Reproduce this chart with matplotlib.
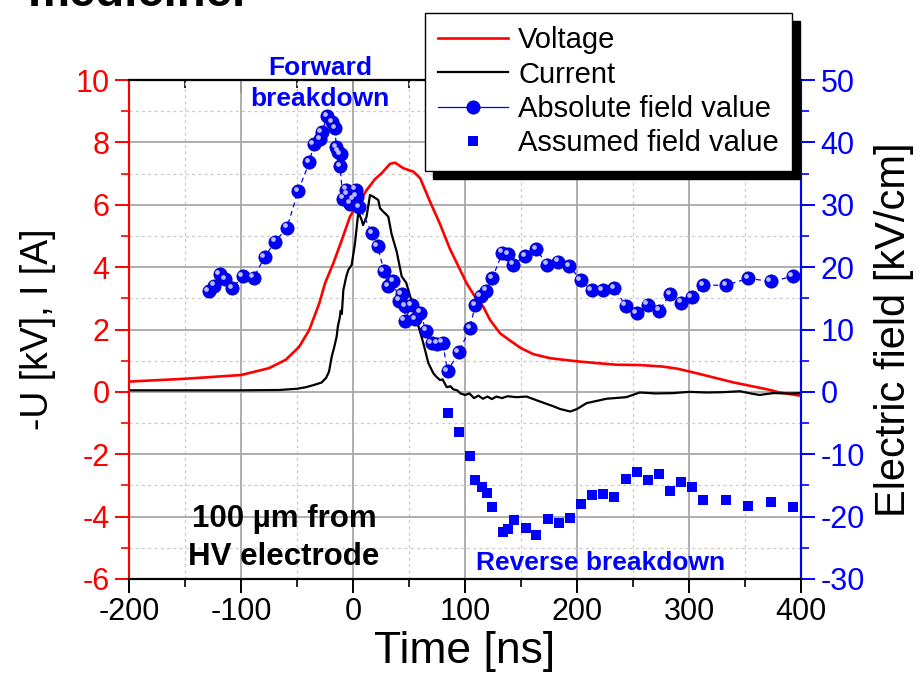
import numpy as np
import matplotlib.pyplot as plt
import matplotlib.transforms as mtransforms
from matplotlib.patches import Rectangle
from matplotlib.lines import Line2D
from matplotlib.ticker import MultipleLocator

plt.rcParams['font.family'] = ['Liberation Sans', 'DejaVu Sans']
plt.rcParams['axes.unicode_minus'] = False

# Voltage (-U, kV)
t_volt = [-200, -150, -100, -75, -60, -48, -39, -30, -25, -17.6, -10, -2.7, 4.8, 12.2,
          19.6, 25.6, 33, 37.5, 45, 54, 60, 68.75, 77.7, 86.6, 101.5, 108.9, 116.3,
          122.3, 131.25, 140, 150, 161, 176, 190, 202.7, 235, 256, 277, 290, 310,
          340, 370, 381, 399]
volt = [0.33, 0.42, 0.54, 0.76, 1.03, 1.45, 1.99, 2.85, 3.48, 4.12, 4.87, 5.62, 6.05,
        6.47, 6.82, 7.01, 7.31, 7.35, 7.17, 7.06, 6.85, 6.1, 5.38, 4.58, 3.48, 3.05,
        2.73, 2.31, 1.88, 1.65, 1.40, 1.21, 1.08, 1.02, 0.97, 0.87, 0.86, 0.81, 0.74,
        0.57, 0.30, 0.08, -0.02, -0.12]

# Current (A)
t_curr = [-200, -150, -100, -66, -50, -42, -35, -28, -24, -21.4, -19, -17, -14.6, -13.5,
          -12, -11, -10, -8.6, -6, -4.2, -1.2, 1.8, 4.8, 7.7, 9, 12, 15.2, 18, 22.6,
          24.1, 27, 31.5, 34.5, 39, 43.5, 47.5, 52.4, 56.9, 62.8, 67.3, 71.7, 74, 77.7,
          80, 83.7, 87, 89.6, 93, 96, 100, 104, 108, 112, 116, 120, 124, 128, 133, 138,
          146, 155, 167, 178, 185, 194, 200, 208.6, 226.5, 244, 256, 270, 286, 300,
          316, 330, 345.5, 355, 363, 375, 390, 399]
curr = [0.05, 0.05, 0.05, 0.06, 0.10, 0.15, 0.22, 0.30, 0.45, 0.65, 1.13, 1.4, 1.77, 2.1,
        2.35, 2.6, 2.5, 3.27, 3.7, 3.91, 4.07, 4.77, 5.78, 5.51, 5.35, 5.6, 6.31, 6.26,
        6.15, 5.89, 5.78, 5.62, 5.05, 4.5, 3.7, 3.5, 2.9, 2.3, 1.56, 0.92, 0.6, 0.5,
        0.38, 0.4, 0.15, 0.18, 0.08, 0.05, -0.05, -0.1, -0.05, -0.2, -0.12, -0.22,
        -0.15, -0.23, -0.15, -0.2, -0.14, -0.17, -0.15, -0.31, -0.45, -0.55, -0.63,
        -0.55, -0.36, -0.22, -0.17, -0.02, -0.05, -0.04, 0.0, -0.02, -0.01, 0.02,
        -0.05, -0.1, -0.04, -0.05, -0.04]

# Absolute field value (kV/cm)
t_abs = [-129, -124, -119, -114, -108, -98.5, -88.7, -79, -69.6, -59, -49, -39, -35,
         -29.5, -28, -23, -18.5, -16, -15, -13, -11, -11.6, -9, -6, -4.7, -2.7, 0, 2.4,
         3.3, 5.7, 17.3, 22, 27.5, 31.5, 36, 41.2, 43.5, 46.4, 46, 52.5, 55.4, 60,
         65.2, 70.3, 75.3, 80, 84.5, 94.5, 104.5, 109, 114, 118.7, 124.4, 133.3, 138.7,
         143.2, 153.6, 163.4, 173.5, 183.3, 193.2, 203.3, 213.1, 222.9, 233.3, 243.5,
         253.3, 263.1, 273.5, 283, 292.9, 302.4, 312.8, 333, 353, 372.9, 392.6]
e_abs = [16.1, 17.0, 18.9, 18.1, 16.6, 18.5, 18.3, 21.6, 24.1, 26.3, 32.2, 36.8, 39.7,
         40.5, 41.6, 44.2, 43.2, 42.3, 39.2, 38.5, 38.1, 36.2, 31.0, 32.4, 31.6, 30.2,
         30.8, 32.4, 31.3, 29.6, 25.4, 23.4, 19.4, 16.9, 17.7, 14.6, 15.7, 13.7, 11.4,
         13.9, 11.7, 12.7, 9.8, 7.8, 7.7, 7.9, 3.3, 6.4, 10.2, 13.9, 15.3, 16.2, 18.2,
         22.3, 22.1, 20.4, 21.8, 22.9, 20.4, 20.9, 20.2, 17.9, 16.3, 16.3, 16.6, 13.8,
         12.6, 14.0, 13.0, 15.7, 14.3, 15.2, 17.1, 17.1, 18.2, 17.7, 18.5]

# Assumed field value (kV/cm)
t_assumed = [84.5, 94.9, 104.5, 108.9, 114.9, 119.4, 124.4, 133.6, 138.7, 143.75, 154.2,
             163.4, 173.8, 183.6, 193.75, 203.3, 213.4, 223.5, 233, 243.75, 253.6, 263.7,
             273.5, 283, 292.9, 302.7, 312.8, 333, 353, 372.9, 392.6]
e_assumed = [-3.4, -6.4, -10.3, -14.1, -15.3, -16.2, -18.4, -22.4, -22.0, -20.5, -21.9,
             -22.9, -20.4, -21.0, -20.2, -18.0, -16.5, -16.3, -16.8, -13.9, -12.8, -14.1,
             -13.1, -15.9, -14.4, -15.2, -17.3, -17.3, -18.3, -17.7, -18.5]

W, H = 919, 676
fig = plt.figure(figsize=(W / 100, H / 100), dpi=100)
ax = fig.add_axes([129 / W, 1 - 579 / H, 672 / W, 499 / H])
ax2 = ax.twinx()

# grid on the primary axes
ax.set_axisbelow(True)
ax.xaxis.set_major_locator(MultipleLocator(100))
ax.xaxis.set_minor_locator(MultipleLocator(50))
ax.yaxis.set_major_locator(MultipleLocator(2))
ax.yaxis.set_minor_locator(MultipleLocator(1))
ax.grid(which='major', color='#a8a8a8', lw=1.3, ls='-')
ax.grid(which='minor', color='#cccccc', lw=0.9, ls=(0, (2.5, 2.5)))

ax.plot(t_volt, volt, color='red', lw=1.9, zorder=3)
ax.plot(t_curr, curr, color='black', lw=1.6, zorder=3)

ax.set_xlim(-200, 400)
ax.set_ylim(-6, 10)
ax2.set_ylim(-30, 50)
ax2.yaxis.set_major_locator(MultipleLocator(10))
ax2.yaxis.set_minor_locator(MultipleLocator(5))

# field data
blue = '#0000ff'
ax2.plot(t_abs, e_abs, color=blue, lw=0.9, ls=(0, (4, 3)), zorder=2)
ax2.plot(t_abs, e_abs, 'o', ms=9.5, color=blue, mec='#0000b0', mew=0.6, zorder=3)
hl = mtransforms.offset_copy(ax2.transData, fig=fig, x=-1.7, y=1.7, units='points')
ax2.plot(t_abs, e_abs, 'o', ms=3.4, color='#d0d0ff', mew=0, alpha=0.9,
         transform=hl, zorder=4)
ax2.plot(t_assumed, e_assumed, 's', ms=6.5, color=blue, mew=0, zorder=3)

# spines
for a in (ax, ax2):
    a.spines['left'].set_color('red')
    a.spines['right'].set_color(blue)
    a.spines['top'].set_color('black')
    a.spines['bottom'].set_color('black')
    for s in a.spines.values():
        s.set_linewidth(1.5)

ax.tick_params(axis='y', which='major', direction='out', length=10, width=1.4,
               colors='red', labelsize=22, pad=4)
ax.tick_params(axis='y', which='minor', direction='out', length=6, width=1.2, colors='red')
ax.tick_params(axis='x', which='major', direction='out', length=10, width=1.4,
               colors='black', labelsize=22, pad=3)
ax.tick_params(axis='x', which='minor', direction='out', length=6, width=1.2)
ax2.tick_params(axis='y', which='major', direction='out', length=10, width=1.4,
                colors=blue, labelsize=22, pad=4)
ax2.tick_params(axis='y', which='minor', direction='out', length=6, width=1.2, colors=blue)

top = ax.secondary_xaxis('top')
top.xaxis.set_major_locator(MultipleLocator(100))
top.xaxis.set_minor_locator(MultipleLocator(50))
top.tick_params(which='major', direction='in', length=9, width=1.4, labeltop=False)
top.tick_params(which='minor', direction='in', length=6, width=1.2)
top.spines['top'].set_linewidth(1.5)

ax.set_xlabel('Time [ns]', fontsize=32)
ax.xaxis.set_label_coords(0.5, -0.104)
ax.set_ylabel('-U [kV], I [A]', fontsize=27)
ax.yaxis.set_label_coords(-0.108, 0.5)
ax2.set_ylabel('Electric field [kV/cm]', fontsize=30)
ax2.yaxis.set_label_coords(1.108, 0.5)

# annotations
ax.text(-29.5, 9.9, 'Forward\nbreakdown', color=blue, fontsize=19, fontweight='bold',
        ha='center', va='center', linespacing=1.37, zorder=5)
ax.text(221, -5.5, 'Reverse breakdown', color=blue, fontsize=19, fontweight='bold',
        ha='center', va='center', zorder=5)
ax.text(-61.5, -4.7, '100 \u00b5m from\nHV electrode', color='black', fontsize=22.5,
        fontweight='bold', ha='center', va='center', linespacing=1.35, zorder=5)

# cut-off heading at top
fig.text(28 / W, 1 - 6 / H, 'medicine.', fontsize=34, fontweight='bold', va='baseline',
         ha='left')

# legend with hard shadow
handles = [Line2D([], [], color='red', lw=1.9),
           Line2D([], [], color='black', lw=1.6),
           Line2D([], [], color=blue, lw=0.9, marker='o', ms=9.5, mec='#0000b0', mew=0.6),
           Line2D([], [], color=blue, ls='none', marker='s', ms=6.5, mew=0)]
labels = ['Voltage', 'Current', 'Absolute field value', 'Assumed field value']
leg = fig.legend(handles, labels, loc='upper left', bbox_to_anchor=(425 / W, 1 - 13 / H),
                 fontsize=21, frameon=True, fancybox=False, edgecolor='black',
                 framealpha=1, borderpad=0.45, labelspacing=0.22, handlelength=2.4,
                 handletextpad=0.35, borderaxespad=0, numpoints=1)
leg.get_frame().set_linewidth(1.0)
leg.set_zorder(10)

fig.canvas.draw()
bb = leg.get_window_extent()
inv = fig.transFigure.inverted()
(x0, y0), (x1, y1) = inv.transform([(bb.x0 + 8, bb.y0 - 8), (bb.x1 + 8, bb.y1 - 8)])
fig.add_artist(Rectangle((x0, y0), x1 - x0, y1 - y0, transform=fig.transFigure,
                         color='black', zorder=9))

fig.savefig('out.png', dpi=100)
